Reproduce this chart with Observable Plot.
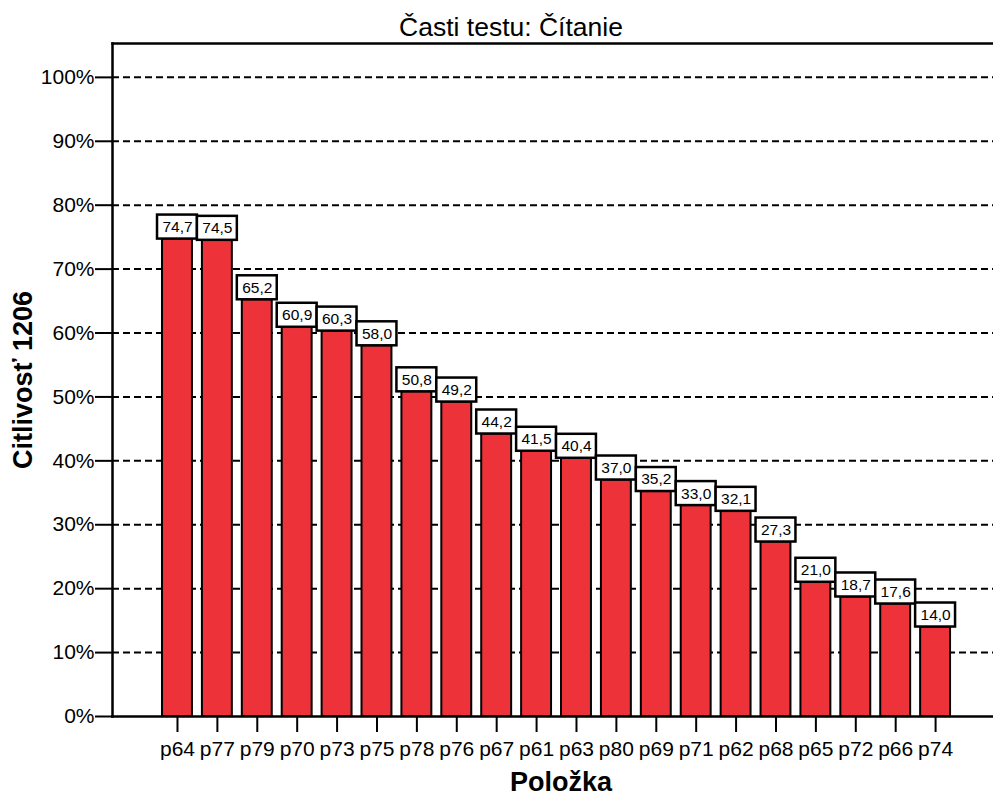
<!DOCTYPE html>
<html>
<head>
<meta charset="utf-8">
<script src="https://cdn.jsdelivr.net/npm/d3@7"></script>
<script src="https://cdn.jsdelivr.net/npm/@observablehq/plot@0.6"></script>
<style>
  body { margin: 0; background: #fff; font-family: Arial, "Liberation Sans", sans-serif; }
  #chart svg { display: block; }
</style>
</head>
<body>
<div id="chart"></div>
<script>
const title = "Časti testu: Čítanie";
const yLabel = "Citlivosť 1206";
const xLabel = "Položka";
const items = ["p64","p77","p79","p70","p73","p75","p78","p76","p67","p61","p63","p80","p69","p71","p62","p68","p65","p72","p66","p74"];
const values = [74.7,74.5,65.2,60.9,60.3,58.0,50.8,49.2,44.2,41.5,40.4,37.0,35.2,33.0,32.1,27.3,21.0,18.7,17.6,14.0];
const yTicks = [0,10,20,30,40,50,60,70,80,90,100];

const data = items.map((item, i) => ({item, value: values[i]}));
const fmt = v => v.toFixed(1).replace(".", ",");
const font = "Arial, 'Liberation Sans', sans-serif";

const chart = Plot.plot({
  width: 993,
  height: 796,
  marginTop: 43,
  marginBottom: 80,
  marginLeft: 112,
  marginRight: 0,
  style: {fontFamily: font, background: "#fff", color: "#000"},
  x: {type: "band", domain: items, paddingInner: 0.25, paddingOuter: 1.165, align: 0.538, round: false, label: null},
  y: {domain: [0, 105.3], label: null},
  marks: [
    Plot.gridY(yTicks.filter(d => d > 0), {stroke: "#000", strokeOpacity: 1, strokeWidth: 2, strokeDasharray: "7,4"}),
    Plot.barY(data, {x: "item", y: "value", fill: "#ee3239", stroke: "#000", strokeWidth: 2}),
    Plot.frame({anchor: "top", stroke: "#000", strokeWidth: 2.5}),
    Plot.frame({anchor: "bottom", stroke: "#000", strokeWidth: 2.5}),
    Plot.frame({anchor: "left", stroke: "#000", strokeWidth: 2.5}),
    Plot.axisY({ticks: yTicks, tickFormat: d => d + "%", tickSize: 17, tickPadding: 1, fontSize: 21, strokeWidth: 2, label: null}),
    Plot.axisX({tickSize: 16, tickPadding: 9, fontSize: 21, strokeWidth: 2, label: null}),
    Plot.barY(data, {x: "item", y1: "value", y2: "value", insetTop: -24, insetLeft: -5, insetRight: -5, fill: "#fff", stroke: "#000", strokeWidth: 2.5}),
    Plot.text(data, {x: "item", y: "value", text: d => fmt(d.value), dy: -12, fontSize: 15.5, fill: "#000"}),
    Plot.text([title], {frameAnchor: "top", lineAnchor: "middle", textAnchor: "middle", dx: -42, dy: -16, fontSize: 26.5, fill: "#000"}),
    Plot.text([yLabel], {frameAnchor: "left", lineAnchor: "middle", textAnchor: "middle", dx: -89, rotate: -90, fontSize: 27, fontWeight: "bold", fill: "#000"}),
    Plot.text([xLabel], {frameAnchor: "bottom", lineAnchor: "middle", textAnchor: "middle", dx: 8, dy: 66, fontSize: 27, fontWeight: "bold", fill: "#000"})
  ]
});
document.getElementById("chart").appendChild(chart);
</script>
</body>
</html>
